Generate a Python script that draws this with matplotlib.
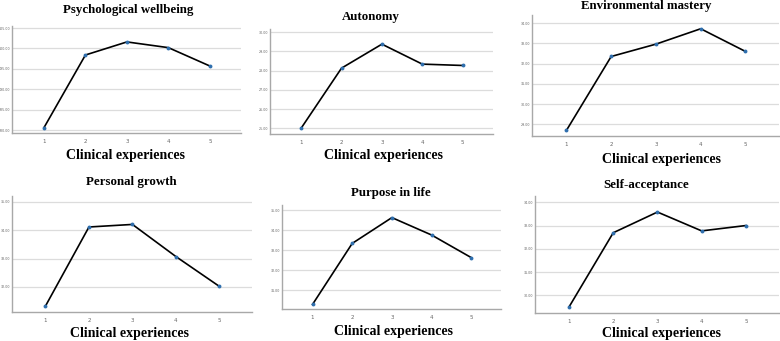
import numpy as np
import matplotlib
matplotlib.use("Agg")
import matplotlib.pyplot as plt

plt.rcParams['font.family'] = 'DejaVu Sans'

# data
experiences = [1, 2, 3, 4, 5]
titles = ['Psychological wellbeing', 'Autonomy', 'Environmental mastery',
          'Personal growth', 'Purpose in life', 'Self-acceptance']
wellbeing = [180.6, 198.4, 201.6, 200.2, 195.7]
autonomy = [25.0, 28.13, 29.38, 28.34, 28.27]
env_mastery = [28.7, 32.35, 32.96, 33.72, 32.6]
growth = [31.33, 34.11, 34.2, 33.07, 32.02]
purpose = [30.28, 33.33, 34.62, 33.75, 32.62]
self_accept = [29.5, 32.69, 33.58, 32.77, 33.0]
series = [wellbeing, autonomy, env_mastery, growth, purpose, self_accept]

yticks = [[180, 185, 190, 195, 200, 205],
          [25, 26, 27, 28, 29, 30],
          [29, 30, 31, 32, 33, 34],
          [32, 33, 34, 35],
          [31, 32, 33, 34, 35],
          [30, 31, 32, 33, 34]]

# layout in pixels: axes (left, top, right, bottom), ylim, title centre, xlabel centre
W, H = 780, 341
boxes = [(12, 26, 241, 133), (270, 29, 493, 134), (532, 15, 779, 136),
         (12, 196, 252, 312), (282, 205, 501, 309), (535, 196, 779, 313)]
ylims = [(179.3, 205.5), (24.7, 30.17), (28.42, 34.4),
         (31.12, 35.2), (30.05, 35.25), (29.24, 34.27)]
title_xy = [(128, 10), (371, 17), (646, 6), (131, 182), (391, 193), (646, 185)]
xlab_xy = [(126, 155), (383, 155), (661, 159), (129, 334), (393, 331), (661, 334)]

fig = plt.figure(figsize=(W / 100, H / 100), dpi=100)

for i in range(6):
    l, t, r, b = boxes[i]
    ax = fig.add_axes([l / W, (H - b) / H, (r - l) / W, (b - t) / H])
    ax.plot(experiences, series[i], color='black', lw=1.2, zorder=3)
    ax.plot(experiences, series[i], 'o', color='#2f6fae', ms=2.8, mec='none', zorder=4)
    ax.set_xlim(0.23, 5.75)
    ax.set_ylim(*ylims[i])
    ax.set_xticks(experiences)
    ax.set_yticks(yticks[i])
    ax.set_yticklabels(['%.2f' % v for v in yticks[i]])
    ax.yaxis.grid(True, color='#dcdcdc', lw=0.9)
    ax.set_axisbelow(True)
    ax.tick_params(length=0, colors='#666666')
    ax.tick_params(axis='y', labelsize=2.3, pad=1)
    ax.tick_params(axis='x', labelsize=4, pad=4)
    for s in ['top', 'right']:
        ax.spines[s].set_visible(False)
    for s in ['left', 'bottom']:
        ax.spines[s].set_color('#a8a8a8')
        ax.spines[s].set_linewidth(1.0)

    tx, ty = title_xy[i]
    fig.text(tx / W, (H - ty) / H, titles[i], ha='center', va='center',
             family='Liberation Serif', weight='bold', fontsize=9.3)
    lx, ly = xlab_xy[i]
    fig.text(lx / W, (H - ly) / H, 'Clinical experiences', ha='center', va='center',
             family='Liberation Serif', weight='bold', fontsize=10)

fig.savefig('out.png', dpi=100)
